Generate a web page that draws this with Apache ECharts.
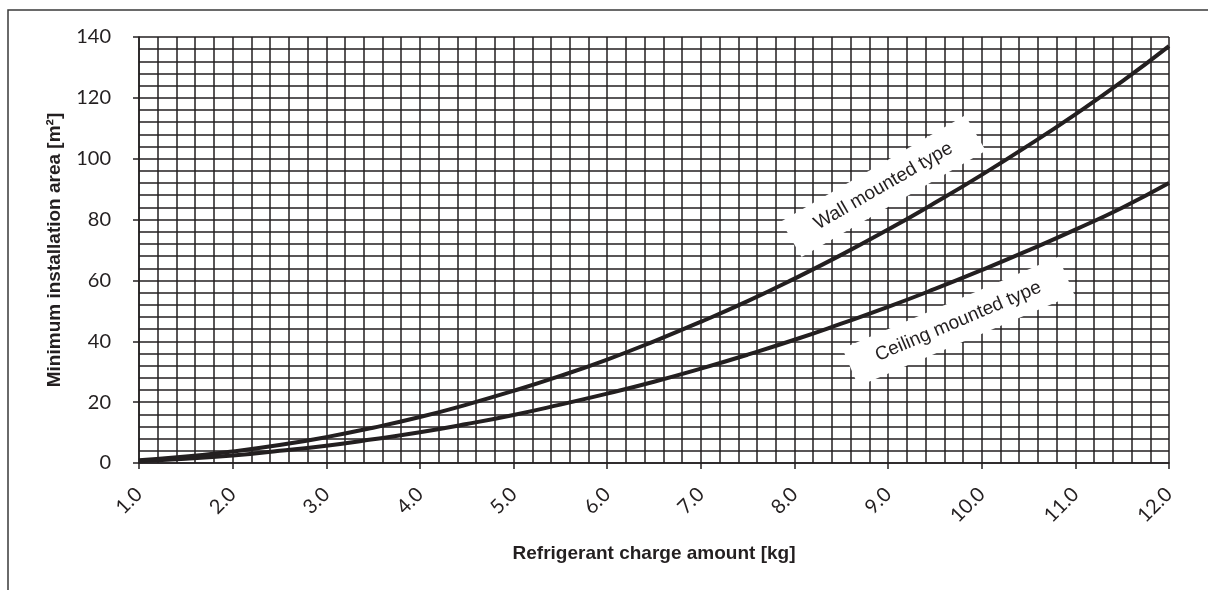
<!DOCTYPE html>
<html>
<head>
<meta charset="utf-8">
<script src="https://cdn.jsdelivr.net/npm/echarts@6/dist/echarts.min.js"></script>
<style>
  html, body { margin: 0; padding: 0; background: #fff; }
  #chart { width: 1208px; height: 590px; }
</style>
</head>
<body>
<div id="chart"></div>
<script>
// values
const chargeKg = [1.0, 1.5, 2.0, 2.5, 3.0, 3.5, 4.0, 4.5, 5.0, 5.5, 6.0, 6.5, 7.0, 7.5, 8.0, 8.5, 9.0, 9.5, 10.0, 10.5, 11.0, 11.5, 12.0];
const wallArea = [0.9, 2.1, 3.8, 5.9, 8.5, 11.6, 15.1, 19.2, 23.7, 28.6, 34.0, 40.0, 46.4, 53.2, 60.6, 68.4, 76.7, 85.5, 94.7, 104.4, 114.6, 125.4, 137.0];
const ceilingArea = [0.6, 1.4, 2.5, 4.0, 5.7, 7.8, 10.1, 12.8, 15.8, 19.2, 22.8, 26.7, 31.0, 35.6, 40.5, 45.8, 51.3, 57.2, 63.4, 69.9, 76.7, 83.9, 92.0];

const xTitle = 'Refrigerant charge amount [kg]';
const yTitle = 'Minimum installation area [m²]';
const seriesNames = ['Wall mounted type', 'Ceiling mounted type'];

const INK = '#231f20';
const gridLine = { color: INK, width: 1.5 };

const chart = echarts.init(document.getElementById('chart'));

function toXY(xs, ys) {
  return xs.map((x, i) => [x, ys[i]]);
}

const option = {
  animation: false,
  backgroundColor: '#fff',
  grid: {
    left: 139,
    right: 39,
    top: 37,
    bottom: 127,
    outerBoundsMode: 'none'
  },
  xAxis: {
    type: 'value',
    min: 1,
    max: 12,
    interval: 1,
    name: xTitle,
    nameLocation: 'middle',
    nameGap: 81,
    nameTextStyle: { fontFamily: 'Liberation Sans', fontWeight: 'bold', fontSize: 19, color: INK },
    axisLine: { show: true, lineStyle: gridLine },
    axisTick: { show: true, length: 6, lineStyle: gridLine },
    minorTick: { show: false, splitNumber: 5 },
    splitLine: { show: true, lineStyle: gridLine },
    minorSplitLine: { show: true, lineStyle: gridLine },
    axisLabel: {
      rotate: 45,
      margin: 28,
      fontFamily: 'Lato',
      fontSize: 20,
      color: INK,
      formatter: (v) => v.toFixed(1)
    }
  },
  yAxis: {
    type: 'value',
    min: 0,
    max: 140,
    interval: 20,
    name: yTitle,
    nameLocation: 'middle',
    nameGap: 75,
    nameTextStyle: { fontFamily: 'Liberation Sans', fontWeight: 'bold', fontSize: 19, color: INK },
    axisLine: { show: true, lineStyle: gridLine },
    axisTick: { show: true, length: 6, lineStyle: gridLine },
    minorTick: { show: false, splitNumber: 5 },
    splitLine: { show: true, lineStyle: gridLine },
    minorSplitLine: { show: true, lineStyle: gridLine },
    axisLabel: { margin: 28, fontFamily: 'Lato', fontSize: 20, color: INK }
  },
  series: [
    {
      name: seriesNames[0],
      type: 'line',
      smooth: true,
      showSymbol: false,
      z: 3,
      lineStyle: { color: INK, width: 4 },
      data: toXY(chargeKg, wallArea)
    },
    {
      name: seriesNames[1],
      type: 'line',
      smooth: true,
      showSymbol: false,
      z: 3,
      lineStyle: { color: INK, width: 4 },
      data: toXY(chargeKg, ceilingArea)
    }
  ]
};

chart.setOption(option);

// curve labels, anchored in data coordinates
const labelAnchors = [
  { text: seriesNames[0], at: [8.95, 91], angle: 30 },
  { text: seriesNames[1], at: [9.75, 46.5], angle: 23 }
];

const labels = labelAnchors.map((l) => {
  const p = chart.convertToPixel({ gridIndex: 0 }, l.at);
  return {
    type: 'text',
    x: p[0],
    y: p[1],
    rotation: (l.angle * Math.PI) / 180,
    z: 1,
    style: {
      text: l.text,
      font: '19px "Liberation Sans"',
      fill: INK,
      align: 'center',
      verticalAlign: 'middle',
      backgroundColor: '#fff',
      padding: [11, 28]
    }
  };
});

chart.setOption({
  graphic: [
    {
      type: 'rect',
      z: 0,
      shape: { x: 8, y: 10, width: 1400, height: 1000 },
      style: { fill: 'none', stroke: '#3a3a3a', lineWidth: 1.5 }
    },
    ...labels
  ]
});
</script>
</body>
</html>
